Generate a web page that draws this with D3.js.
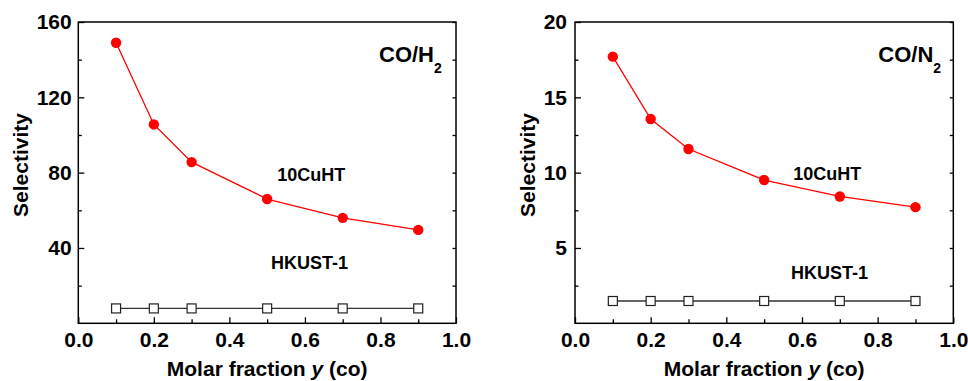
<!DOCTYPE html>
<html>
<head>
<meta charset="utf-8">
<script src="https://cdn.jsdelivr.net/npm/d3@7"></script>
<style>
  html, body { margin: 0; padding: 0; background: #fff; }
  svg { display: block; }
  text { font-family: "Liberation Sans", Arial, Helvetica, sans-serif; font-weight: bold; fill: #000; }
</style>
</head>
<body>
<svg id="chart" width="968" height="381"></svg>
<script>
// ---- Data ----
const xFraction = [0.1, 0.2, 0.3, 0.5, 0.7, 0.9];
const cuhtCOH2 = [149, 105.6, 85.6, 66, 56, 49.6];
const hkustCOH2 = [7.9, 7.9, 7.9, 7.9, 7.9, 7.9];
const cuhtCON2 = [17.7, 13.56, 11.57, 9.51, 8.42, 7.71];
const hkustCON2 = [1.48, 1.48, 1.48, 1.48, 1.48, 1.48];

const xTicksMajor = [0, 0.2, 0.4, 0.6, 0.8, 1.0];
const xTicksMinor = [0.1, 0.3, 0.5, 0.7, 0.9];
const yTicksH2Major = [40, 80, 120, 160];
const yTicksH2Minor = [20, 60, 100, 140];
const yTicksN2Major = [5, 10, 15, 20];
const yTicksN2Minor = [2.5, 7.5, 12.5, 17.5];

const xTitle = "Molar fraction ";
const yTitle = "Selectivity";

const svg = d3.select("#chart");

function panel(cfg) {
  const g = svg.append("g");
  const x = d3.scaleLinear().domain([0, 1]).range([cfg.x0, cfg.x1]);
  const y = d3.scaleLinear().domain(cfg.yDomain).range([cfg.y1, cfg.y0]);

  // minor ticks
  g.append("g").attr("transform", `translate(0,${cfg.y1})`)
    .call(d3.axisBottom(x).tickValues(xTicksMinor).tickSize(-4).tickFormat(""))
    .call(s => s.select(".domain").remove());
  g.append("g").attr("transform", `translate(${cfg.x0},0)`)
    .call(d3.axisLeft(y).tickValues(cfg.yMinor).tickSize(-3.5).tickFormat(""))
    .call(s => s.select(".domain").remove());
  g.append("g").attr("transform", `translate(${cfg.x1},0)`)
    .call(d3.axisRight(y).tickValues(cfg.yMinor.concat(cfg.yMajor)).tickSize(-3.5).tickFormat(""))
    .call(s => s.select(".domain").remove());

  // major ticks with labels
  const xa = g.append("g").attr("transform", `translate(0,${cfg.y1})`)
    .call(d3.axisBottom(x).tickValues(xTicksMajor).tickSize(-6).tickPadding(9).tickFormat(d3.format(".1f")));
  xa.select(".domain").remove();
  xa.selectAll("text").style("font-size", "21px").style("font-family", null).attr("fill", "#000");

  const ya = g.append("g").attr("transform", `translate(${cfg.x0},0)`)
    .call(d3.axisLeft(y).tickValues(cfg.yMajor).tickSize(-6).tickPadding(cfg.yPad));
  ya.select(".domain").remove();
  ya.selectAll("text").style("font-size", "21px").style("font-family", null).attr("fill", "#000");

  g.selectAll(".tick line").attr("stroke", "#000").attr("stroke-width", 1.3);

  // frame
  g.append("rect").attr("x", cfg.x0).attr("y", cfg.y0)
    .attr("width", cfg.x1 - cfg.x0).attr("height", cfg.y1 - cfg.y0)
    .attr("fill", "none").attr("stroke", "#000").attr("stroke-width", 1.5);

  // HKUST-1 line + squares
  const pts2 = xFraction.map((d, i) => [x(d), y(cfg.hkust[i])]);
  g.append("path").attr("d", d3.line()(pts2)).attr("fill", "none")
    .attr("stroke", "#333").attr("stroke-width", 1.3);
  g.selectAll(".sq").data(pts2).join("rect")
    .attr("x", d => d[0] - 4.5).attr("y", d => d[1] - 4.5)
    .attr("width", 9).attr("height", 9)
    .attr("fill", "#fff").attr("stroke", "#222").attr("stroke-width", 1.2);

  // 10CuHT line + circles
  const pts1 = xFraction.map((d, i) => [x(d), y(cfg.cuht[i])]);
  g.append("path").attr("d", d3.line()(pts1)).attr("fill", "none")
    .attr("stroke", "#ff0000").attr("stroke-width", 1.3);
  g.selectAll(".ci").data(pts1).join("circle")
    .attr("cx", d => d[0]).attr("cy", d => d[1]).attr("r", 5.2)
    .attr("fill", "#ff0000");

  // labels
  const t = g.append("text").attr("x", cfg.gasX).attr("y", 62).style("font-size", "22px");
  t.append("tspan").text(cfg.gas);
  t.append("tspan").text("2").style("font-size", "14px").attr("dy", 11);

  g.append("text").attr("x", cfg.cuX).attr("y", cfg.cuY).style("font-size", "18px").text("10CuHT");
  g.append("text").attr("x", cfg.hkX).attr("y", cfg.hkY).style("font-size", "18px").text("HKUST-1");

  // axis titles
  const xt = g.append("text").attr("x", (cfg.x0 + cfg.x1) / 2).attr("y", 376)
    .attr("text-anchor", "middle").style("font-size", "21px");
  xt.append("tspan").text(xTitle);
  xt.append("tspan").text("y").style("font-style", "italic");
  xt.append("tspan").text(" (co)");

  g.append("text").attr("transform", `translate(${cfg.ytX},165) rotate(-90)`)
    .attr("text-anchor", "middle").style("font-size", "21px").text(yTitle);
}

panel({
  x0: 78.3, x1: 456, y0: 22, y1: 323.3,
  yDomain: [0, 160], yMajor: yTicksH2Major, yMinor: yTicksH2Minor, yPad: 6.6,
  cuht: cuhtCOH2, hkust: hkustCOH2,
  gas: "CO/H", gasX: 379,
  cuX: 277.3, cuY: 180.7, hkX: 271, hkY: 269.3, ytX: 27.5
});

panel({
  x0: 575, x1: 953.3, y0: 22, y1: 323.3,
  yDomain: [0, 20], yMajor: yTicksN2Major, yMinor: yTicksN2Minor, yPad: 8,
  cuht: cuhtCON2, hkust: hkustCON2,
  gas: "CO/N", gasX: 878.3,
  cuX: 793.3, cuY: 180, hkX: 791, hkY: 279.3, ytX: 535
});
</script>
</body>
</html>
